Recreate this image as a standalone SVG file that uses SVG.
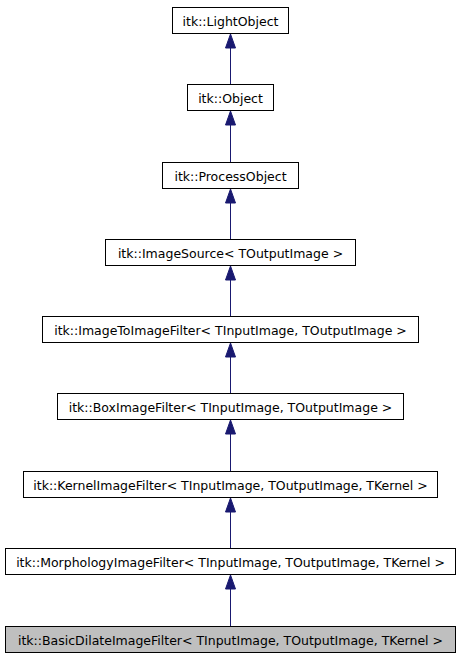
<svg xmlns="http://www.w3.org/2000/svg" width="461" height="659" viewBox="0 0 461 659">
<style>
.box{fill:#ffffff;stroke:#000000;stroke-width:1}
.cur{fill:#bfbfbf;stroke:#000000;stroke-width:1}
.lbl{font-family:"DejaVu Sans",sans-serif;font-size:12.5px;fill:#000000;text-anchor:middle}
.edge{stroke:#191970;stroke-width:1;fill:none}
.head{fill:#191970;stroke:#191970;stroke-width:1}
</style>
<rect width="461" height="659" fill="#ffffff"/>
<g id="connectors">
<line class="edge" x1="230.5" y1="84" x2="230.5" y2="48"/><polygon class="head" points="230.5,34 235.5,48 225.5,48"/>
<line class="edge" x1="230.5" y1="162" x2="230.5" y2="125"/><polygon class="head" points="230.5,111 235.5,125 225.5,125"/>
<line class="edge" x1="230.5" y1="239" x2="230.5" y2="203"/><polygon class="head" points="230.5,189 235.5,203 225.5,203"/>
<line class="edge" x1="230.5" y1="316" x2="230.5" y2="280"/><polygon class="head" points="230.5,266 235.5,280 225.5,280"/>
<line class="edge" x1="230.5" y1="393" x2="230.5" y2="357"/><polygon class="head" points="230.5,343 235.5,357 225.5,357"/>
<line class="edge" x1="230.5" y1="471" x2="230.5" y2="434"/><polygon class="head" points="230.5,420 235.5,434 225.5,434"/>
<line class="edge" x1="230.5" y1="548" x2="230.5" y2="512"/><polygon class="head" points="230.5,498 235.5,512 225.5,512"/>
<line class="edge" x1="230.5" y1="626" x2="230.5" y2="589"/><polygon class="head" points="230.5,575 235.5,589 225.5,589"/>
</g>
<g id="node-LightObject"><rect class="box" x="172.5" y="7.5" width="116" height="26"/><text class="lbl" x="230.5" y="25.5">itk::LightObject</text></g>
<g id="node-Object"><rect class="box" x="187.5" y="84.5" width="86" height="26"/><text class="lbl" x="230.5" y="102.5">itk::Object</text></g>
<g id="node-ProcessObject"><rect class="box" x="162.5" y="162.5" width="136" height="26"/><text class="lbl" x="230.5" y="180.5">itk::ProcessObject</text></g>
<g id="node-ImageSource"><rect class="box" x="105.5" y="239.5" width="250" height="26"/><text class="lbl" x="230.5" y="257.5">itk::ImageSource&lt; TOutputImage &gt;</text></g>
<g id="node-ImageToImageFilter"><rect class="box" x="42.5" y="316.5" width="376" height="26"/><text class="lbl" x="230.5" y="334.5">itk::ImageToImageFilter&lt; TInputImage, TOutputImage &gt;</text></g>
<g id="node-BoxImageFilter"><rect class="box" x="57.5" y="393.5" width="346" height="26"/><text class="lbl" x="230.5" y="411.5">itk::BoxImageFilter&lt; TInputImage, TOutputImage &gt;</text></g>
<g id="node-KernelImageFilter"><rect class="box" x="23.5" y="471.5" width="414" height="26"/><text class="lbl" x="230.5" y="489.5">itk::KernelImageFilter&lt; TInputImage, TOutputImage, TKernel &gt;</text></g>
<g id="node-MorphologyImageFilter"><rect class="box" x="5.5" y="548.5" width="450" height="26"/><text class="lbl" x="230.5" y="566.5">itk::MorphologyImageFilter&lt; TInputImage, TOutputImage, TKernel &gt;</text></g>
<g id="node-BasicDilateImageFilter"><rect class="cur" x="5.5" y="626.5" width="450" height="26"/><text class="lbl" x="230.5" y="644.5">itk::BasicDilateImageFilter&lt; TInputImage, TOutputImage, TKernel &gt;</text></g>
</svg>
